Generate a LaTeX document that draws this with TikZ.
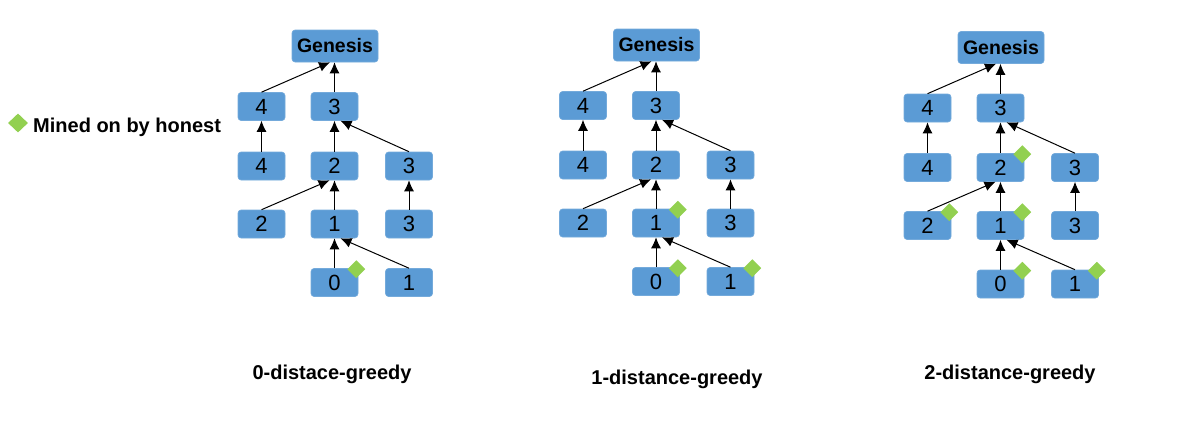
\documentclass[tikz,border=0pt]{standalone}
\usepackage{fontspec}
\setmainfont{Liberation Sans}
\usetikzlibrary{arrows.meta,shapes.geometric}
\definecolor{boxblue}{HTML}{5B9BD5}
\definecolor{minegreen}{HTML}{92D050}
\tikzset{
 blk/.style={fill=boxblue, draw=boxblue!85!white, line width=0.6pt, rounded corners=3pt, minimum width=47pt, minimum height=28pt, inner sep=0pt, font=\fontsize{22}{22}\selectfont},
 gen/.style={blk, minimum width=86pt, minimum height=32pt, font=\fontsize{19.5}{20}\selectfont\bfseries},
 dia/.style={diamond, fill=minegreen, inner sep=0pt, minimum width=18pt, minimum height=18pt},
 arr/.style={-{Latex[length=11pt,width=10pt]}, line width=1pt, black},
 lbl/.style={font=\fontsize{20}{20}\selectfont\bfseries, inner sep=0pt},
}
\newcommand\drawpanel[4]{%
\begin{scope}[shift={(#2,#3)}]
 \node[gen] (#1g) at (335,46) {Genesis};
 \node[blk] (#1a4) at (261.5,106.5) {4};
 \node[blk] (#1a3) at (334.5,106.5) {3};
 \node[blk] (#1b4) at (261.5,166) {4};
 \node[blk] (#1b2) at (334.5,166) {2};
 \node[blk] (#1b3) at (409,166) {3};
 \node[blk] (#1c2) at (261.5,224) {2};
 \node[blk] (#1c1) at (334.5,224) {1};
 \node[blk] (#1c3) at (409,224) {3};
 \node[blk] (#1d0) at (334.5,282.5) {0};
 \node[blk] (#1d1) at (409,282.5) {1};
 \draw[arr] (#1a4.north) -- ([xshift=-5pt]#1g.south);
 \draw[arr] (#1a3.north) -- (#1a3.north |- #1g.south);
 \draw[arr] (#1b4.north) -- (#1a4.south);
 \draw[arr] (#1b2.north) -- (#1a3.south);
 \draw[arr] (#1b3.north) -- ([xshift=6pt]#1a3.south);
 \draw[arr] (#1c2.north) -- ([xshift=-5pt]#1b2.south);
 \draw[arr] (#1c1.north) -- (#1b2.south);
 \draw[arr] (#1c3.north) -- (#1b3.south);
 \draw[arr] (#1d0.north) -- (#1c1.south);
 \draw[arr] (#1d1.north) -- ([xshift=6pt]#1c1.south);
 \foreach \d in {#4} {\node[dia] (#1m\d) at ([shift={(-2,1)}]#1\d.north east) {};}
\end{scope}}

\begin{document}
\begin{tikzpicture}[x=1pt,y=-1pt]
\useasboundingbox (0,0) rectangle (1196,431);
\drawpanel{A}{0}{0}{d0}
\drawpanel{B}{321.5}{-1}{c1,d0,d1}
\drawpanel{C}{666}{1.5}{b2,c2,c1,d0,d1}
\node[dia, minimum width=20pt, minimum height=19pt] (legd) at (18,123) {};
\node[lbl, anchor=west] (legt) at (33,127) {Mined on by honest};
\node[lbl] (t0) at (332,374) {0-distace-greedy};
\node[lbl] (t1) at (677,379) {1-distance-greedy};
\node[lbl] (t2) at (1010,374) {2-distance-greedy};
\end{tikzpicture}
\end{document}
